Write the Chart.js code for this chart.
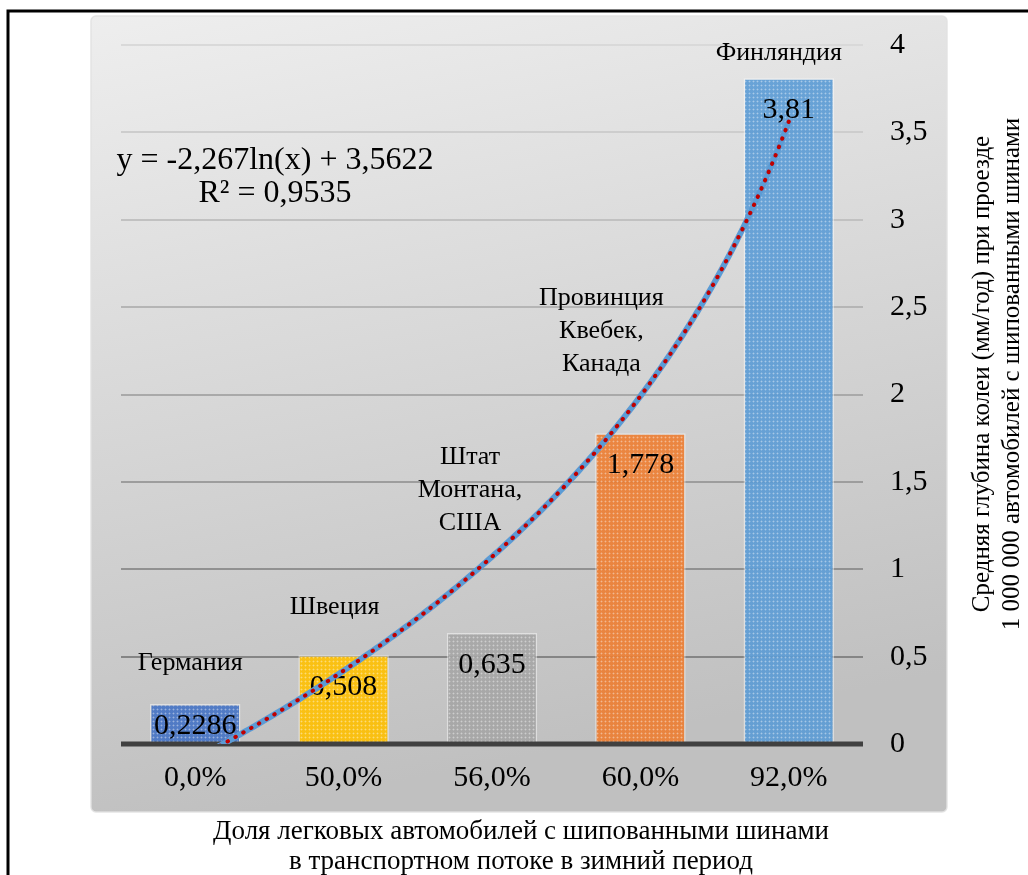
<!DOCTYPE html>
<html>
<head>
<meta charset="utf-8">
<script src="https://cdn.jsdelivr.net/npm/chart.js@4/dist/chart.umd.min.js"></script>
<style>
  html, body { margin: 0; padding: 0; background: #fff; }
  #wrap { width: 1028px; height: 875px; position: relative; }
</style>
</head>
<body>
<div id="wrap"><canvas id="chart" width="1028" height="875"></canvas></div>
<script>
// Share of studded-tyre cars (category axis, drawn right-to-left)
const shareLabels = ['92,0%', '60,0%', '56,0%', '50,0%', '0,0%'];
// Region shown above each bar
const regionNames = ['Финляндия', ['Провинция', 'Квебек,', 'Канада'], ['Штат', 'Монтана,', 'США'], 'Швеция', 'Германия'];
// Mean rut depth, mm/year per 1 000 000 studded-tyre cars
const rutDepth = [3.81, 1.778, 0.635, 0.508, 0.2286];
const barColors = ['#5B9BD5', '#ED7D31', '#A5A5A5', '#FFC000', '#4472C4'];

// Logarithmic trend fitted over the category index: y = a·ln(x) + b
const trendSlope = -2.267;
const trendIntercept = 3.5622;
const trendR2 = 0.9535;

// Value axis
const yMin = 0, yMax = 4, yStep = 0.5;

const xTitle = ['Доля легковых автомобилей с шипованными шинами', 'в транспортном потоке в зимний период'];
const yTitle = ['Средняя глубина колеи (мм/год) при проезде', '1 000 000 автомобилей с шипованными шинами'];

// Placement of the region names: [shift from bar centre, lift of the lowest line above the bar top]
const nameOffsets = [[-10, 25], [-39, 69], [-22, 110], [-9, 48], [-5, 41]];

const SERIF = '"Liberation Serif", "Times New Roman", serif';
const comma = v => String(v).replace('.', ',');

// Fine dotted texture for the bar fill
function texture(color) {
  const c = document.createElement('canvas');
  c.width = 4; c.height = 4;
  const g = c.getContext('2d');
  g.globalAlpha = 0.9;
  g.fillStyle = color;
  g.fillRect(0, 0, 4, 4);
  g.globalAlpha = 1;
  g.fillStyle = 'rgba(255,255,255,0.16)';
  g.fillRect(0, 1, 3, 1);
  g.fillRect(1, 0, 1, 3);
  g.fillStyle = 'rgba(255,255,255,0.18)';
  g.fillRect(1, 1, 1, 1);
  return g.createPattern(c, 'repeat');
}

// Points of the trend curve, evaluated from the stated equation
const trendPoints = [];
for (let i = 0; i <= 200; i++) {
  const x = 1 + i * 0.02;
  trendPoints.push({ x: x, y: trendSlope * Math.log(x) + trendIntercept });
}

const frame = {
  id: 'frame',
  beforeDraw(chart) {
    const { ctx, chartArea: a } = chart;
    ctx.save();
    ctx.fillStyle = '#fff';
    ctx.fillRect(0, 0, chart.width, chart.height);
    // grey panel behind plot and value axis
    const L = a.left - 30, R = a.right + 84, T = a.top - 29, B = a.bottom + 68;
    const g = ctx.createLinearGradient(L, T, L + 160, B);
    g.addColorStop(0, '#eeeeee');
    g.addColorStop(1, '#c0c0c0');
    ctx.fillStyle = g;
    ctx.beginPath();
    ctx.roundRect(L, T, R - L, B - T, 5);
    ctx.fill();
    ctx.strokeStyle = 'rgba(225,225,225,0.9)';
    ctx.lineWidth = 1.5;
    ctx.stroke();
    // outer frame
    ctx.strokeStyle = '#000';
    ctx.lineWidth = 3;
    ctx.beginPath();
    ctx.moveTo(8, chart.height + 5);
    ctx.lineTo(8, 11);
    ctx.lineTo(chart.width + 5, 11);
    ctx.stroke();
    ctx.restore();
  },
  afterDatasetDraw(chart, args) {
    if (args.index !== 0) return;
    const { ctx, chartArea: a } = chart;
    const y = chart.scales.y;
    ctx.save();
    // zero line
    ctx.strokeStyle = '#404040';
    ctx.lineWidth = 5;
    ctx.beginPath();
    ctx.moveTo(a.left, y.getPixelForValue(0));
    ctx.lineTo(a.right, y.getPixelForValue(0));
    ctx.stroke();
    // value labels inside the bars and region names above them
    ctx.fillStyle = '#000';
    ctx.textAlign = 'center';
    ctx.textBaseline = 'middle';
    args.meta.data.forEach((bar, i) => {
      const top = y.getPixelForValue(rutDepth[i]);
      const h = y.getPixelForValue(0) - top;
      ctx.font = '30px ' + SERIF;
      ctx.fillText(comma(rutDepth[i]), bar.x, top + Math.min(32, h / 2 + 2));
      ctx.font = '26px ' + SERIF;
      const lines = [].concat(regionNames[i]);
      const [dx, lift] = nameOffsets[i];
      lines.forEach((s, k) => {
        ctx.fillText(s, bar.x + dx, top - lift - (lines.length - 1 - k) * 33);
      });
    });
    ctx.restore();
  },
  afterDraw(chart) {
    const { ctx, chartArea: a } = chart;
    ctx.save();
    ctx.fillStyle = '#000';
    ctx.textAlign = 'center';
    ctx.textBaseline = 'middle';
    // trend equation
    ctx.font = '32px ' + SERIF;
    ctx.fillText('y = ' + comma(trendSlope) + 'ln(x) + ' + comma(trendIntercept), a.left + 154, a.top + 116);
    ctx.fillText('R² = ' + comma(trendR2), a.left + 154, a.top + 149);
    // axis titles
    ctx.font = '27px ' + SERIF;
    xTitle.forEach((s, k) => ctx.fillText(s, 521, a.bottom + 88 + k * 30));
    ctx.font = '25px ' + SERIF;
    ctx.translate(a.right + 134, 374);
    ctx.rotate(-Math.PI / 2);
    yTitle.forEach((s, k) => ctx.fillText(s, 0, -15 + k * 30));
    ctx.restore();
  }
};

new Chart(document.getElementById('chart'), {
  type: 'bar',
  data: {
    labels: shareLabels,
    datasets: [
      {
        xAxisID: 'x',
        data: rutDepth,
        backgroundColor: barColors.map(texture),
        borderColor: 'rgba(255,255,255,0.45)',
        borderWidth: 1.5,
        grouped: false,
        barPercentage: 0.61,
        categoryPercentage: 1,
        order: 3
      },
      {
        type: 'line',
        xAxisID: 'xt',
        data: trendPoints,
        borderColor: '#5B9BD5',
        borderWidth: 6,
        pointRadius: 0,
        tension: 0,
        order: 2,
        clip: { left: 5, right: 5, top: 5, bottom: 0 }
      },
      {
        type: 'line',
        xAxisID: 'xt',
        data: trendPoints,
        borderColor: '#C00000',
        borderWidth: 4,
        borderDash: [0.5, 8.5],
        borderCapStyle: 'round',
        pointRadius: 0,
        tension: 0,
        order: 1,
        clip: { left: 5, right: 5, top: 5, bottom: 0 }
      }
    ]
  },
  options: {
    responsive: false,
    animation: false,
    events: [],
    layout: { padding: { left: 121, top: 44, right: 0, bottom: 0 } },
    plugins: { legend: { display: false }, tooltip: { enabled: false } },
    scales: {
      x: {
        type: 'category',
        reverse: true,
        offset: true,
        grid: { display: false, drawTicks: false },
        border: { display: false },
        ticks: { color: '#000', font: { family: SERIF, size: 30 }, padding: 16, maxRotation: 0 },
        afterFit: s => { s.height = 131; }
      },
      xt: {
        type: 'linear',
        display: false,
        offset: false,
        grid: { offset: false },
        min: 0.5,
        max: 5.5,
        reverse: true
      },
      y: {
        position: 'right',
        min: yMin,
        max: yMax,
        ticks: { stepSize: yStep, color: '#000', font: { family: SERIF, size: 30 }, padding: 27, callback: v => comma(v) },
        grid: {
          drawTicks: false,
          lineWidth: 2,
          color: c => {
            if (c.tick.value === 0) return 'rgba(0,0,0,0)';
            const v = Math.round(133 + (c.tick.value - 0.5) * 24);
            return 'rgb(' + v + ',' + v + ',' + v + ')';
          }
        },
        border: { display: false },
        afterFit: s => { s.width = 165; }
      }
    }
  },
  plugins: [frame]
});
</script>
</body>
</html>
